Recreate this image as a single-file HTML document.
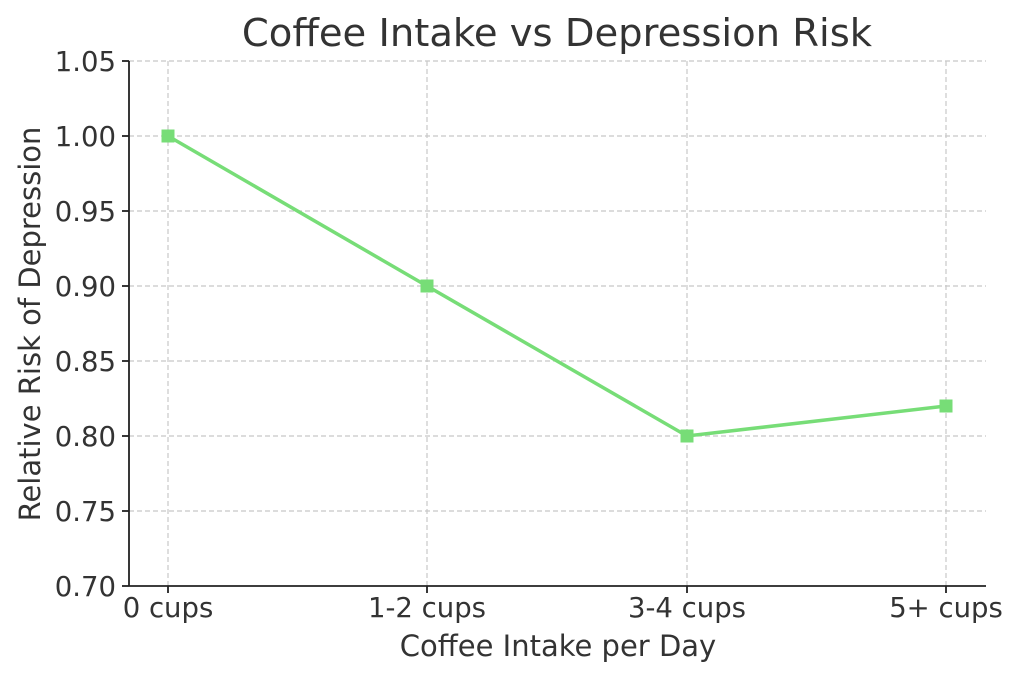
<!DOCTYPE html>
<html><head><meta charset="utf-8"><style>
html,body{margin:0;padding:0;background:#fff;}
svg{display:block;}
text{font-family:"DejaVu Sans","Liberation Sans",sans-serif;fill:#333;}
</style></head><body>
<svg width="1024" height="679" viewBox="0 0 1024 679" xmlns="http://www.w3.org/2000/svg">
<rect width="1024" height="679" fill="#fff"/>
<g stroke="#c8c8c8" stroke-width="1.2" stroke-dasharray="5,3">
<line x1="129" x2="986" y1="61" y2="61"/>
<line x1="129" x2="986" y1="136" y2="136"/>
<line x1="129" x2="986" y1="211" y2="211"/>
<line x1="129" x2="986" y1="286" y2="286"/>
<line x1="129" x2="986" y1="361" y2="361"/>
<line x1="129" x2="986" y1="436" y2="436"/>
<line x1="129" x2="986" y1="511" y2="511"/>
<line x1="168" x2="168" y1="61" y2="586"/>
<line x1="427" x2="427" y1="61" y2="586"/>
<line x1="687" x2="687" y1="61" y2="586"/>
<line x1="946" x2="946" y1="61" y2="586"/>
</g>
<g stroke="#222" stroke-width="1.8">
<line x1="129" x2="129" y1="61" y2="586"/>
<line x1="129" x2="986" y1="586" y2="586"/>
<line x1="122" x2="129" y1="61" y2="61"/>
<line x1="122" x2="129" y1="136" y2="136"/>
<line x1="122" x2="129" y1="211" y2="211"/>
<line x1="122" x2="129" y1="286" y2="286"/>
<line x1="122" x2="129" y1="361" y2="361"/>
<line x1="122" x2="129" y1="436" y2="436"/>
<line x1="122" x2="129" y1="511" y2="511"/>
<line x1="122" x2="129" y1="586" y2="586"/>
<line x1="168" x2="168" y1="586" y2="593"/>
<line x1="427" x2="427" y1="586" y2="593"/>
<line x1="687" x2="687" y1="586" y2="593"/>
<line x1="946" x2="946" y1="586" y2="593"/>
</g>
<g font-size="27.5" text-anchor="end">
<text x="116" y="71">1.05</text>
<text x="116" y="146">1.00</text>
<text x="116" y="221">0.95</text>
<text x="116" y="296">0.90</text>
<text x="116" y="371">0.85</text>
<text x="116" y="446">0.80</text>
<text x="116" y="521">0.75</text>
<text x="116" y="596">0.70</text>
</g>
<g font-size="27.5" text-anchor="middle">
<text x="168" y="617">0 cups</text>
<text x="427" y="617">1-2 cups</text>
<text x="687" y="617">3-4 cups</text>
<text x="946" y="617">5+ cups</text>
</g>
<text x="558" y="656" font-size="29" text-anchor="middle">Coffee Intake per Day</text>
<text transform="translate(40,324) rotate(-90)" font-size="29" text-anchor="middle">Relative Risk of Depression</text>
<text x="557" y="46" font-size="38.5" text-anchor="middle">Coffee Intake vs Depression Risk</text>
<polyline points="168,136 427,286 687,436 946,406" fill="none" stroke="#77dd77" stroke-width="3.5"/>
<g fill="#77dd77">
<rect x="161.5" y="129.5" width="13" height="13"/>
<rect x="420.5" y="279.5" width="13" height="13"/>
<rect x="680.5" y="429.5" width="13" height="13"/>
<rect x="939.5" y="399.5" width="13" height="13"/>
</g>
</svg>
</body></html>
